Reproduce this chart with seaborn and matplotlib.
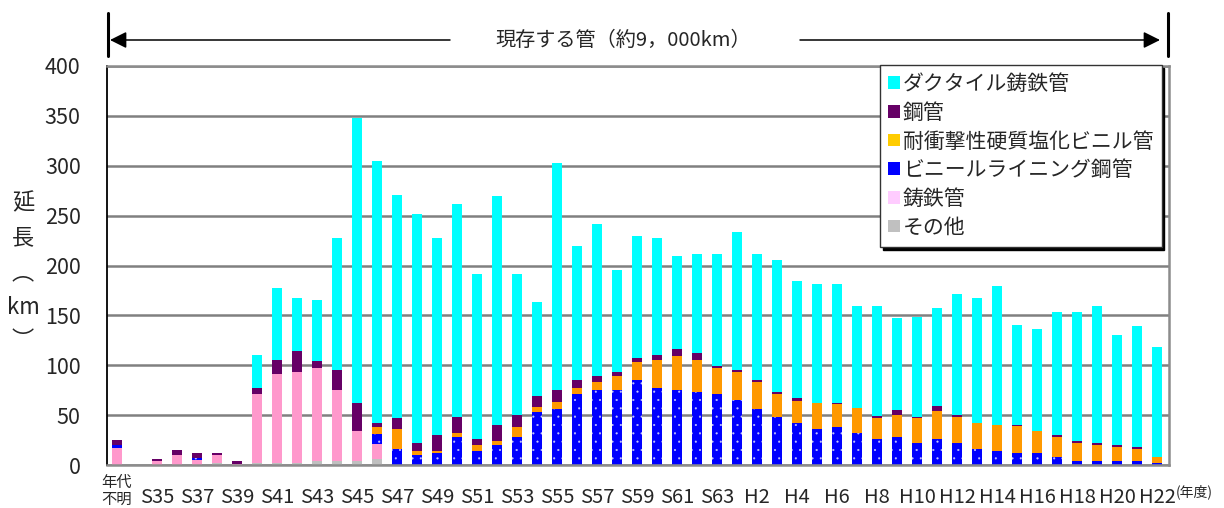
import numpy as np
import matplotlib
matplotlib.use("Agg")
import matplotlib.pyplot as plt
from matplotlib.patches import Patch
from matplotlib.lines import Line2D
import seaborn as sns

# 布設年度（年代不明の次は空き枠）
years = ['年代不明', ' ',
         'S35', 'S36', 'S37', 'S38', 'S39', 'S40', 'S41', 'S42', 'S43', 'S44',
         'S45', 'S46', 'S47', 'S48', 'S49', 'S50', 'S51', 'S52', 'S53', 'S54',
         'S55', 'S56', 'S57', 'S58', 'S59', 'S60', 'S61', 'S62', 'S63',
         'H1', 'H2', 'H3', 'H4', 'H5', 'H6', 'H7', 'H8', 'H9', 'H10', 'H11',
         'H12', 'H13', 'H14', 'H15', 'H16', 'H17', 'H18', 'H19', 'H20', 'H21', 'H22']

# 管種別延長 (km), stacked bottom -> top
other = [0, 0, 0, 0, 0, 2, 0, 2, 2, 2, 4, 4, 4, 6,
         0, 0, 0, 0, 0, 0, 0, 0, 0, 0, 0, 0, 0, 0, 0, 0, 0,
         0, 0, 0, 0, 0, 0, 0, 0, 0, 0, 0, 0, 0, 0, 0, 0, 0, 0, 0, 0, 0, 0]
cast_iron = [17, 0, 4, 10, 5, 8, 1.5, 69, 89, 91, 93, 71, 30, 15,
             0, 0, 0, 0, 0, 0, 0, 0, 0, 0, 0, 0, 0, 0, 0, 0, 0,
             0, 0, 0, 0, 0, 0, 0, 0, 0, 0, 0, 0, 0, 0, 0, 0, 0, 0, 0, 0, 0, 0]
lining_steel = [3, 0, 0, 0, 2.5, 0, 0, 0, 0, 0, 0, 0, 0, 10,
                16, 10, 12, 28, 14, 20, 28, 53, 56, 71, 75, 75, 85, 77, 75, 73, 71,
                65, 56, 48, 42, 36, 38, 32, 26, 28, 22, 26, 22, 16, 14, 12, 12, 8, 4, 4, 4, 4, 2]
pvc = [0, 0, 0, 0, 0, 0, 0, 0, 0, 0, 0, 0, 0, 7,
       20, 4, 2, 4, 6, 4, 10, 5, 7, 6, 8, 14, 18, 28, 34, 32, 26,
       28, 27, 23, 22, 26, 23, 25, 21, 22, 25, 28, 26, 26, 26, 27, 22, 20, 18, 16, 14, 12, 6]
steel = [5, 0, 2, 5, 4.5, 2, 2.5, 6, 14, 21, 7, 20, 28, 4,
         11, 8, 16, 16, 6, 16, 12, 11, 12, 8, 6, 4, 4, 5, 7, 7, 2,
         2, 2, 2, 3, 0, 1, 0, 2, 5, 1, 5, 2, 0, 0, 1, 0, 2, 2, 2, 2, 2, 0]
ductile = [0, 0, 0, 0, 0, 0, 0, 33, 72, 53, 61, 133, 286, 263,
           224, 230, 198, 214, 165, 230, 141, 94, 228, 135, 153, 102, 123, 118, 94, 100, 113,
           139, 127, 133, 117, 119, 119, 102, 110, 92, 100, 98, 121, 125, 139, 100, 102, 123, 129, 137, 110, 121, 110]

names = ['ダクタイル鋳鉄管', '鋼管', '耐衝撃性硬質塩化ビニル管',
         'ビニールライニング鋼管', '鋳鉄管', 'その他']
bar_colors = ['#00FFFF', '#660066', '#FF9900', '#0000FF', '#FF99CC', '#C0C0C0']
legend_colors = ['#00FFFF', '#660066', '#FFCC00', '#0000FF', '#FFCCFF', '#C0C0C0']

sns.set_theme(style='white')
plt.rcParams['font.family'] = ['Noto Sans CJK JP', 'DejaVu Sans']
plt.rcParams['hatch.linewidth'] = 0.3

fig = plt.figure(figsize=(12.24, 5.08), dpi=100)
ax = fig.add_axes([107 / 1224, 43 / 508, 1062 / 1224, 399 / 508])

# cumulative tops, drawn from the tallest layer down so each layer paints over the next
layers = [other, cast_iron, lining_steel, pvc, steel, ductile]
tops = np.cumsum(np.array(layers, dtype=float), axis=0)
layer_colors = bar_colors[::-1]
for k in range(len(layers) - 1, -1, -1):
    sns.barplot(x=years, y=tops[k], order=years, color=layer_colors[k],
                saturation=1, width=0.46, linewidth=0, errorbar=None, ax=ax)
    if k == 2:
        for p in ax.containers[-1]:
            p.set_hatch('..')
            p.set_edgecolor('#c8c8ff')
            p.set_linewidth(0)

ax.set_xlim(-0.5, 52.6)
ax.set_ylim(0, 400)
ax.set_yticks(range(0, 401, 50))
ax.yaxis.grid(True, color='#808080', linewidth=1.8)
ax.xaxis.grid(False)
ax.set_axisbelow(True)
ax.set_xlabel('')
ax.set_ylabel('')

for s in ['top', 'right', 'bottom']:
    ax.spines[s].set_color('#8c8c8c')
    ax.spines[s].set_linewidth(1.8)
ax.spines['left'].set_color('black')
ax.spines['left'].set_linewidth(1.3)

tick_labels = []
for i, y in enumerate(years):
    if i == 0:
        tick_labels.append('年代\n不明')
    elif i >= 2 and i % 2 == 0:
        tick_labels.append(y)
    else:
        tick_labels.append('')
ax.set_xticks(range(len(years)))
ax.set_xticklabels(tick_labels, fontsize=14.5)
ax.tick_params(axis='x', length=0, pad=31)
ax.tick_params(axis='y', length=0, pad=19, labelsize=15.5)
for lbl in ax.get_xticklabels():
    lbl.set_verticalalignment('bottom')
first = ax.get_xticklabels()[0]
first.set_fontsize(11)
first.set_linespacing(1.0)

handles = [Patch(facecolor=c, edgecolor='none') for c in legend_colors]
leg = ax.legend(handles, names, loc='upper right', bbox_to_anchor=(0.993, 1.003),
                fontsize=15, frameon=True, fancybox=False, edgecolor='#333333',
                framealpha=1, shadow={'ox': 2, 'oy': -2, 'color': 'black', 'alpha': 1},
                handlelength=0.55, handleheight=0.55, handletextpad=0.15,
                labelspacing=0.32, borderpad=0.4, borderaxespad=0)
leg.get_frame().set_linewidth(1.0)

# 縦書きの軸ラベル
for ch, yy in zip(['延', '長', '︵', 'km', '︶'], [203, 238, 273, 308, 340]):
    fig.text(23 / 1224, 1 - yy / 508, ch, ha='center', va='center', fontsize=16)

fig.text(1176 / 1224, 1 - 492 / 508, '(年度)', ha='left', va='center', fontsize=10)

# 現存する管の範囲
ya = 1 - 40 / 508
fig.add_artist(Line2D([108 / 1224] * 2, [1 - 13 / 508, 1 - 56 / 508], color='black', lw=2.2))
fig.add_artist(Line2D([1167.5 / 1224] * 2, [1 - 13 / 508, 1 - 56 / 508], color='black', lw=2.2))
arrow = dict(arrowstyle='-|>', color='black', lw=1.1, mutation_scale=25, shrinkA=0, shrinkB=0)
ax.annotate('', xy=(110 / 1224, ya), xytext=(450 / 1224, ya),
            xycoords='figure fraction', textcoords='figure fraction', arrowprops=arrow)
ax.annotate('', xy=(1160 / 1224, ya), xytext=(800 / 1224, ya),
            xycoords='figure fraction', textcoords='figure fraction', arrowprops=arrow)
fig.text(623 / 1224, ya, '現存する管（約9，000km）', ha='center', va='center', fontsize=14.5)

fig.savefig('out.png', dpi=100)
